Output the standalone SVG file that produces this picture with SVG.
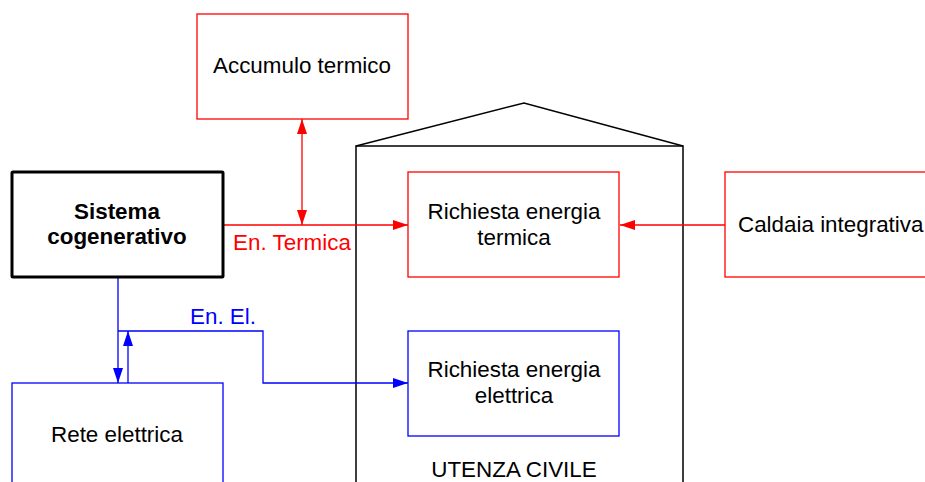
<svg xmlns="http://www.w3.org/2000/svg" width="925" height="482" viewBox="0 0 925 482">
<style>
text{font-family:"Liberation Sans",Arial,sans-serif;font-size:22.4px;fill:#000;text-anchor:middle}
.red{fill:none;stroke:#ff0000;stroke-width:1.3}
.blue{fill:none;stroke:#0000ff;stroke-width:1.3}
.blk{fill:none;stroke:#000;stroke-width:1.5}
.rt{fill:#ff0000}
.bt{fill:#0000ff}
</style>
<defs>
<marker id="ar" markerUnits="userSpaceOnUse" markerWidth="15" markerHeight="10" refX="15" refY="5" orient="auto-start-reverse" viewBox="0 0 15 10"><path d="M0,0 L15,5 L0,10 z" fill="#ff0000"/></marker>
<marker id="ab" markerUnits="userSpaceOnUse" markerWidth="15" markerHeight="10" refX="15" refY="5" orient="auto-start-reverse" viewBox="0 0 15 10"><path d="M0,0 L15,5 L0,10 z" fill="#0000ff"/></marker>
</defs>
<g id="utenza">
<polyline class="blk" points="356,482 356,146 683,146 683,482"/>
<polyline class="blk" points="356,146 524,103 683,146"/>
<text x="514" y="477">UTENZA CIVILE</text>
</g>
<g id="connectors">
<path class="red" d="M223,225 H408" marker-end="url(#ar)"/>
<path class="red" d="M302,119 V225" marker-start="url(#ar)" marker-end="url(#ar)"/>
<path class="red" d="M725,225 H620" marker-end="url(#ar)"/>
<path class="blue" d="M118,277 V383" marker-end="url(#ab)"/>
<path class="blue" d="M128,383 V331" marker-end="url(#ab)"/>
<path class="blue" d="M118,331 H263 V383 H408" marker-end="url(#ab)"/>
<text class="rt" x="292" y="250">En. Termica</text>
<text class="bt" x="223" y="324">En. El.</text>
</g>
<g id="sistema">
<rect x="12" y="172" width="211" height="105" fill="#fff" stroke="#000" stroke-width="3" rx="1"/>
<text x="117" y="219" font-weight="bold">Sistema</text>
<text x="117" y="244" font-weight="bold">cogenerativo</text>
</g>
<g id="accumulo">
<rect class="red" x="197" y="14" width="211" height="105"/>
<text x="302" y="73">Accumulo termico</text>
</g>
<g id="termica">
<rect class="red" x="408" y="172" width="211" height="105"/>
<text x="514" y="219">Richiesta energia</text>
<text x="514" y="245">termica</text>
</g>
<g id="caldaia">
<rect class="red" x="725" y="172" width="230" height="105"/>
<text x="738" y="232" style="text-anchor:start">Caldaia integrativa</text>
</g>
<g id="rete">
<rect class="blue" x="12" y="383" width="211" height="120"/>
<text x="117" y="442">Rete elettrica</text>
</g>
<g id="elettrica">
<rect class="blue" x="408" y="331" width="211" height="105"/>
<text x="514" y="377">Richiesta energia</text>
<text x="514" y="403">elettrica</text>
</g>
</svg>
